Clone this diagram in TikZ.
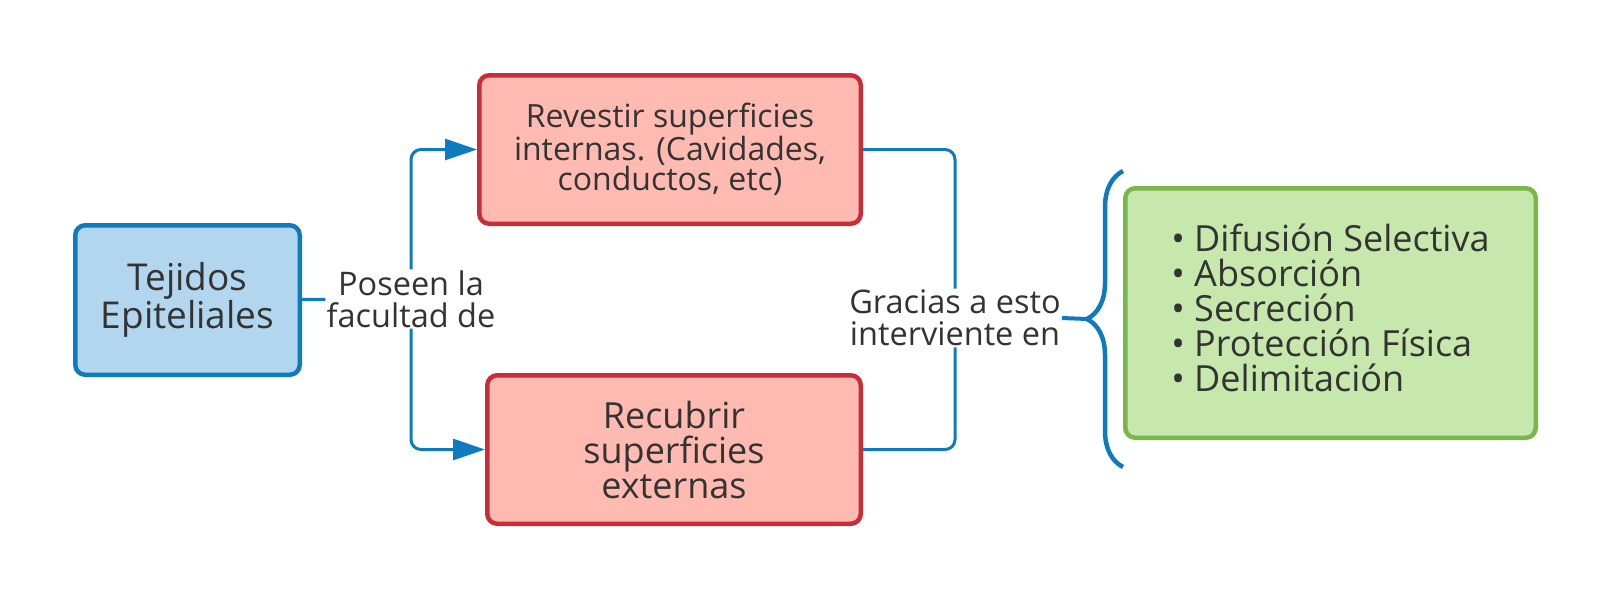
\documentclass[tikz,border=0pt]{standalone}
\usepackage{fontspec}
\setmainfont{Open Sans}
\usetikzlibrary{shapes,arrows.meta,decorations.pathreplacing}

\definecolor{lineblue}{RGB}{14,123,190}
\definecolor{fillblue}{RGB}{179,214,239}
\definecolor{linered}{RGB}{201,45,57}
\definecolor{fillred}{RGB}{255,187,177}
\definecolor{linegreen}{RGB}{122,182,72}
\definecolor{fillgreen}{RGB}{199,232,172}
\definecolor{textgray}{RGB}{51,51,51}

\begin{document}
\begin{tikzpicture}[x=1pt,y=-1pt,
                every path/.style={>={Triangle[length=32pt,width=21pt]}},
                every node/.style={text=textgray,align=center},
                box/.style={draw,rounded corners=10pt,line width=4.5pt,inner sep=0pt},
                conn/.style={draw=lineblue,line width=3pt,rounded corners=10pt},
                label/.style={inner sep=1pt,font=\fontsize{32.5}{32}\selectfont}]
  \useasboundingbox (0,0) rectangle (1613,600);
  % boxes
  \node[box,draw=lineblue,fill=fillblue,minimum width=224.5pt,minimum height=149.5pt,
        font=\fontsize{37}{34}\selectfont]
                   (tejidos) at (187.5,300)  {Tejidos\\Epiteliales};
  \node[box,draw=linered,fill=fillred,minimum width=381.5pt,minimum height=148.5pt,
        font=\fontsize{32}{30}\selectfont]
                   (revestir) at (670,149.5) {Revestir superficies\\internas. (Cavidades,\\conductos, etc)};
  \node[box,draw=linered,fill=fillred,minimum width=373.5pt,minimum height=148.5pt,
        font=\fontsize{36}{35}\selectfont]
                   (recubrir) at (674,449.5) {Recubrir\\superficies\\externas};
  \node[box,draw=linegreen,fill=fillgreen,minimum width=410.5pt,minimum height=249.5pt,
        font=\fontsize{36}{35}\selectfont,align=left,text depth=11pt]
                   (funciones) at (1330.5,313) {• Difusión Selectiva\\• Absorción\\• Secreción\\• Protección Física\\• Delimitación};
  % labels
  \node[label]     (poseen) at (411,299)  {Poseen la\\facultad de};
  \node[label]     (gracias) at (955,318) {Gracias a esto\\interviente en};
  \coordinate      (bt) at (1123,171);
  \coordinate      (bb) at (1123,467);
  \coordinate      (tip) at (1087,319);
  % connectors
  \draw[conn] (tejidos) -- (poseen);
  \draw[conn,->] (poseen.north) |- (revestir.west);
  \draw[conn,->] (poseen.south) |- (recubrir.west);
  \draw[conn] (revestir.east) -| (gracias.north);
  \draw[conn] (recubrir.east) -| (gracias.south);
  \draw[conn,line width=4pt] (gracias.east) -- (tip);
  \draw[draw=lineblue,line width=4.5pt,decorate,decoration={brace,amplitude=36pt}] (bb) -- (bt);
\end{tikzpicture}
\end{document}
